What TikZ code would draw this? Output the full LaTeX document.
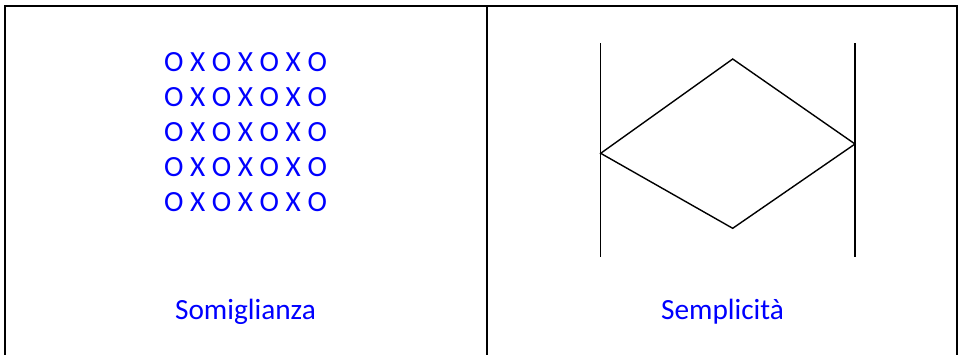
\documentclass[tikz,border=0pt]{standalone}
\usepackage{fontspec}
\setmainfont{Carlito}
\definecolor{txtblue}{RGB}{0,0,255}
\begin{document}
\begin{tikzpicture}[x=1pt,y=-1pt,
  grid/.style={line width=2pt,black},
  shape line/.style={line width=1.4pt,black,line join=miter},
  bluetext/.style={text=txtblue,font=\fontsize{29.3}{34}\selectfont,anchor=base,inner sep=0pt}]
\useasboundingbox (0,0) rectangle (962,354);
% table frame
\coordinate (tl) at (5,6);
\coordinate (tr) at (957,6);
\coordinate (bl) at (5,360);
\coordinate (br) at (957,360);
\coordinate (mt) at (487,6);
\coordinate (mb) at (487,360);
\begin{scope}
\clip (0,0) rectangle (962,354);
\draw[grid] (bl) -- (tl) -- (tr) -- (br);
\draw[grid] (mt) -- (mb);
\end{scope}
% left cell
\foreach \i/\y in {1/71.7,2/106.7,3/141.7,4/176.7,5/211.7}
  \node[bluetext] (row\i) at (245.5,\y) {O X O X O X O};
\node[bluetext] (som) at (245.5,319) {Somiglianza};
% right cell
\coordinate (l1) at (600.7,43);
\coordinate (l2) at (600.7,257);
\coordinate (r1) at (855,43);
\coordinate (r2) at (855,257);
\draw[shape line] (l1) -- (l2);
\draw[shape line] (r1) -- (r2);
\coordinate (dt) at (732.7,59);
\coordinate (dl) at (600.7,153.3);
\coordinate (dr) at (855,144);
\coordinate (db) at (732.7,228.3);
\draw[shape line] (dl) -- (dt) -- (dr) -- (db) -- cycle;
\node[bluetext] (sem) at (722.5,319) {Semplicità};
\end{tikzpicture}
\end{document}
